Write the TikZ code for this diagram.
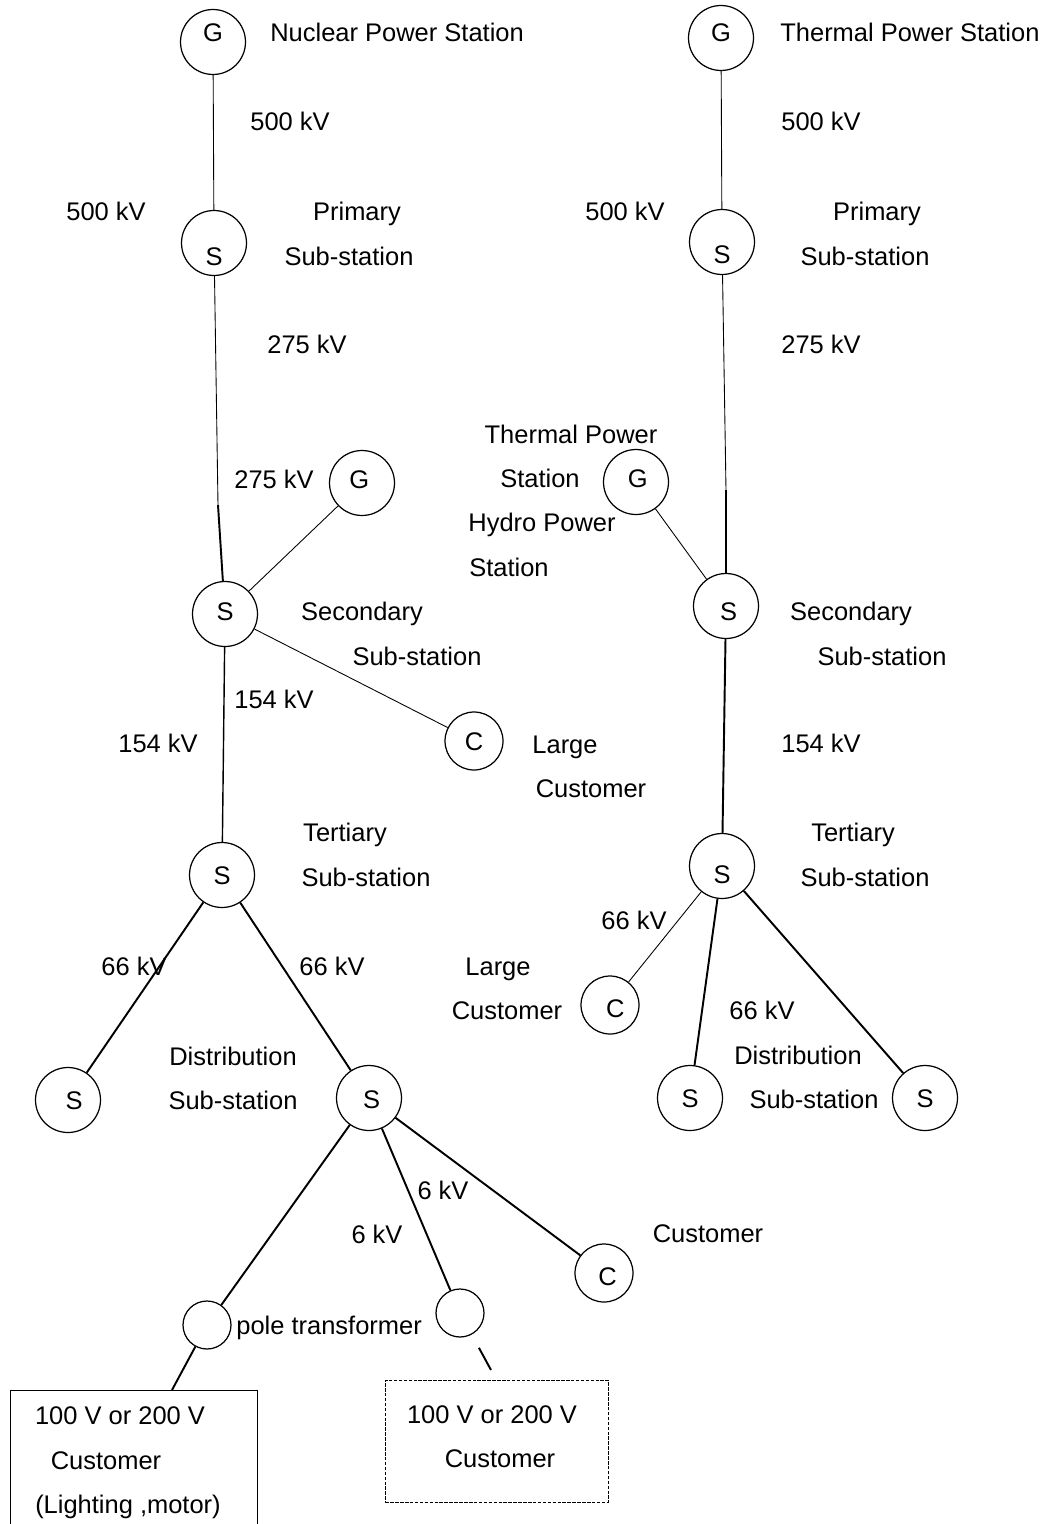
\documentclass[tikz,border=0pt]{standalone}
\usepackage{fontspec}
\setmainfont{Liberation Sans}
\tikzset{
  stn/.style={circle, draw, line width=0.7pt, minimum size=1.3cm, inner sep=0pt, text height=10.4pt, text depth=0pt},
  cst/.style={stn, minimum size=1.16cm},
  pole/.style={stn, minimum size=0.96cm},
  lbl/.style={inner sep=0pt, text height=10.4pt, text depth=0pt},
  wire/.style={line width=0.5pt},
  wiremid/.style={line width=0.8pt},
  wirebold/.style={line width=1.1pt},
}
% letter inside a circle, moved off centre
\newcommand{\offc}[3]{\raisebox{#2}[0pt][0pt]{\hspace*{#1}#3}}
\begin{document}
\begin{tikzpicture}[x=0.02cm, y=-0.02cm, font=\fontsize{14.5}{17}\selectfont]
    \useasboundingbox (0,0) rectangle (1046,1524);

    % nuclear side, top
    \node[stn] (G1) at (213,42) {\offc{0pt}{5.5pt}{G}};
    \node[lbl, anchor=west] (nucl) at (270,32) {Nuclear Power Station};
    \node[lbl] (kvA) at (290,121) {500 kV};
    \node[lbl] (kvB) at (106,211) {500 kV};
    \node[stn] (S1) at (214,243) {\offc{0pt}{-7.5pt}{S}};
    \node[lbl] (prim1) at (357,211) {Primary};
    \node[lbl] (sub1) at (349,256) {Sub-station};
    \node[lbl] (kvC) at (307,344) {275 kV};

    % secondary sub-station, left
    \node[lbl] (kvD) at (274,479) {275 kV};
    \node[stn] (G3) at (362,483) {\offc{-3pt}{2pt}{G}};
    \node[stn] (S3) at (225,614) {\offc{0pt}{1.5pt}{S}};
    \node[lbl] (sec1) at (362,611) {Secondary};
    \node[lbl] (sub3) at (417,656) {Sub-station};
    \node[lbl] (kvE) at (274,699) {154 kV};
    \node[cst] (C1) at (474,741) {C};
    \node[lbl] (large1) at (565,744) {Large};
    \node[lbl] (cust1) at (591,788) {Customer};
    \node[lbl] (kvF) at (158,743) {154 kV};

    % tertiary and distribution, left
    \node[lbl] (tert1) at (345,832) {Tertiary};
    \node[stn] (S4) at (222,875) {S};
    \node[lbl] (sub4) at (366,877) {Sub-station};
    \node[lbl] (kvG) at (134,966) {66 kV};
    \node[lbl] (kvH) at (332,966) {66 kV};
    \node[stn] (S5) at (68,1100) {\offc{7pt}{0pt}{S}};
    \node[lbl] (dist1) at (233,1056) {Distribution};
    \node[lbl] (sub5) at (233,1100) {Sub-station};
    \node[stn] (S6) at (369,1098) {\offc{3pt}{-1pt}{S}};

    % 6 kV feeders
    \node[lbl] (kvI) at (377,1234) {6 kV};
    \node[lbl] (kvJ) at (443,1190) {6 kV};
    \node[pole] (P1) at (207,1325) {};
    \node[lbl, anchor=west] (poletr) at (236,1325) {pole transformer};
    \node[pole] (P2) at (460,1313) {};
    \node[cst] (C3) at (604,1273) {\offc{4pt}{-2pt}{C}};
    \node[lbl] (cust3) at (708,1233) {Customer};

    % low voltage customers
    \node[draw, line width=0.8pt, anchor=north west, minimum width=4.94cm, minimum height=3.4cm] (box1) at (10,1390) {};
    \node[lbl] (volt1) at (120,1415) {100 V or 200 V};
    \node[lbl] (lvc1) at (106,1460) {Customer};
    \node[lbl] (use1) at (128,1504) {(Lighting ,motor)};
    \node[draw, line width=0.4pt, dash pattern=on 2pt off 0.8pt, anchor=north west, minimum width=4.46cm, minimum height=2.44cm] (box2) at (385,1380) {};
    \node[lbl] (volt2) at (492,1414) {100 V or 200 V};
    \node[lbl] (lvc2) at (500,1458) {Customer};
    \coordinate (drop1) at (172,1390);
    \coordinate (drop2) at (491,1370);

    % thermal side, top
    \node[stn] (G2) at (721,38) {\offc{0pt}{3pt}{G}};
    \node[lbl, anchor=west] (therm) at (780,32) {Thermal Power Station};
    \node[lbl] (kvK) at (821,121) {500 kV};
    \node[lbl] (kvL) at (625,211) {500 kV};
    \node[stn] (S2) at (722,242) {\offc{0pt}{-7pt}{S}};
    \node[lbl] (prim2) at (877,211) {Primary};
    \node[lbl] (sub2) at (865,256) {Sub-station};
    \node[lbl] (kvM) at (821,344) {275 kV};

    % secondary sub-station, right
    \node[lbl] (thp) at (571,434) {Thermal Power};
    \node[lbl] (ths) at (540,478) {Station};
    \node[stn] (G4) at (636,482) {\offc{2pt}{2pt}{G}};
    \node[lbl] (hyd) at (542,522) {Hydro Power};
    \node[lbl] (hys) at (509,567) {Station};
    \node[stn] (S7) at (726,606) {\offc{3pt}{-3pt}{S}};
    \node[lbl] (sec2) at (851,611) {Secondary};
    \node[lbl] (sub7) at (882,656) {Sub-station};
    \node[lbl] (kvN) at (821,743) {154 kV};

    % tertiary and distribution, right
    \node[lbl] (tert2) at (853,832) {Tertiary};
    \node[stn] (S8) at (722,866) {\offc{0pt}{-5pt}{S}};
    \node[lbl] (sub8) at (865,877) {Sub-station};
    \node[lbl] (kvO) at (634,920) {66 kV};
    \node[lbl] (large2) at (498,966) {Large};
    \node[lbl] (cust2) at (507,1010) {Customer};
    \node[cst] (C2) at (610,1005) {\offc{6pt}{-2pt}{C}};
    \node[lbl] (kvP) at (762,1010) {66 kV};
    \node[lbl] (dist2) at (798,1055) {Distribution};
    \node[lbl] (sub9) at (814,1099) {Sub-station};
    \node[stn] (S9) at (690,1098) {S};
    \node[stn] (S10) at (925,1098) {S};

    % lines
    \coordinate (mid1) at (218,505);
    \coordinate (mid2) at (726,490);
    \draw[wire] (G1) -- (S1);
    \draw[wire] (S1) -- (mid1);
    \draw[wirebold] (mid1) -- (S3);
    \draw[wire] (G3) -- (S3);
    \draw[wire] (S3) -- (C1);
    \draw[wiremid] (S3) -- (S4);
    \draw[wirebold] (S4) -- (S5);
    \draw[wirebold] (S4) -- (S6);
    \draw[wirebold] (S6) -- (P1);
    \draw[wirebold] (S6) -- (P2);
    \draw[wirebold] (S6) -- (C3);
    \draw[wirebold] (P1) -- (drop1);
    \draw[wirebold, shorten <=0.3cm] (P2) -- (drop2);

    \draw[wire] (G2) -- (S2);
    \draw[wire] (S2) -- (mid2);
    \draw[wirebold] (mid2) -- (S7);
    \draw[wire] (G4) -- (S7);
    \draw[wirebold] (S7) -- (S8);
    \draw[wire] (S8) -- (C2);
    \draw[wirebold] (S8) -- (S9);
    \draw[wirebold] (S8) -- (S10);
\end{tikzpicture}
\end{document}
